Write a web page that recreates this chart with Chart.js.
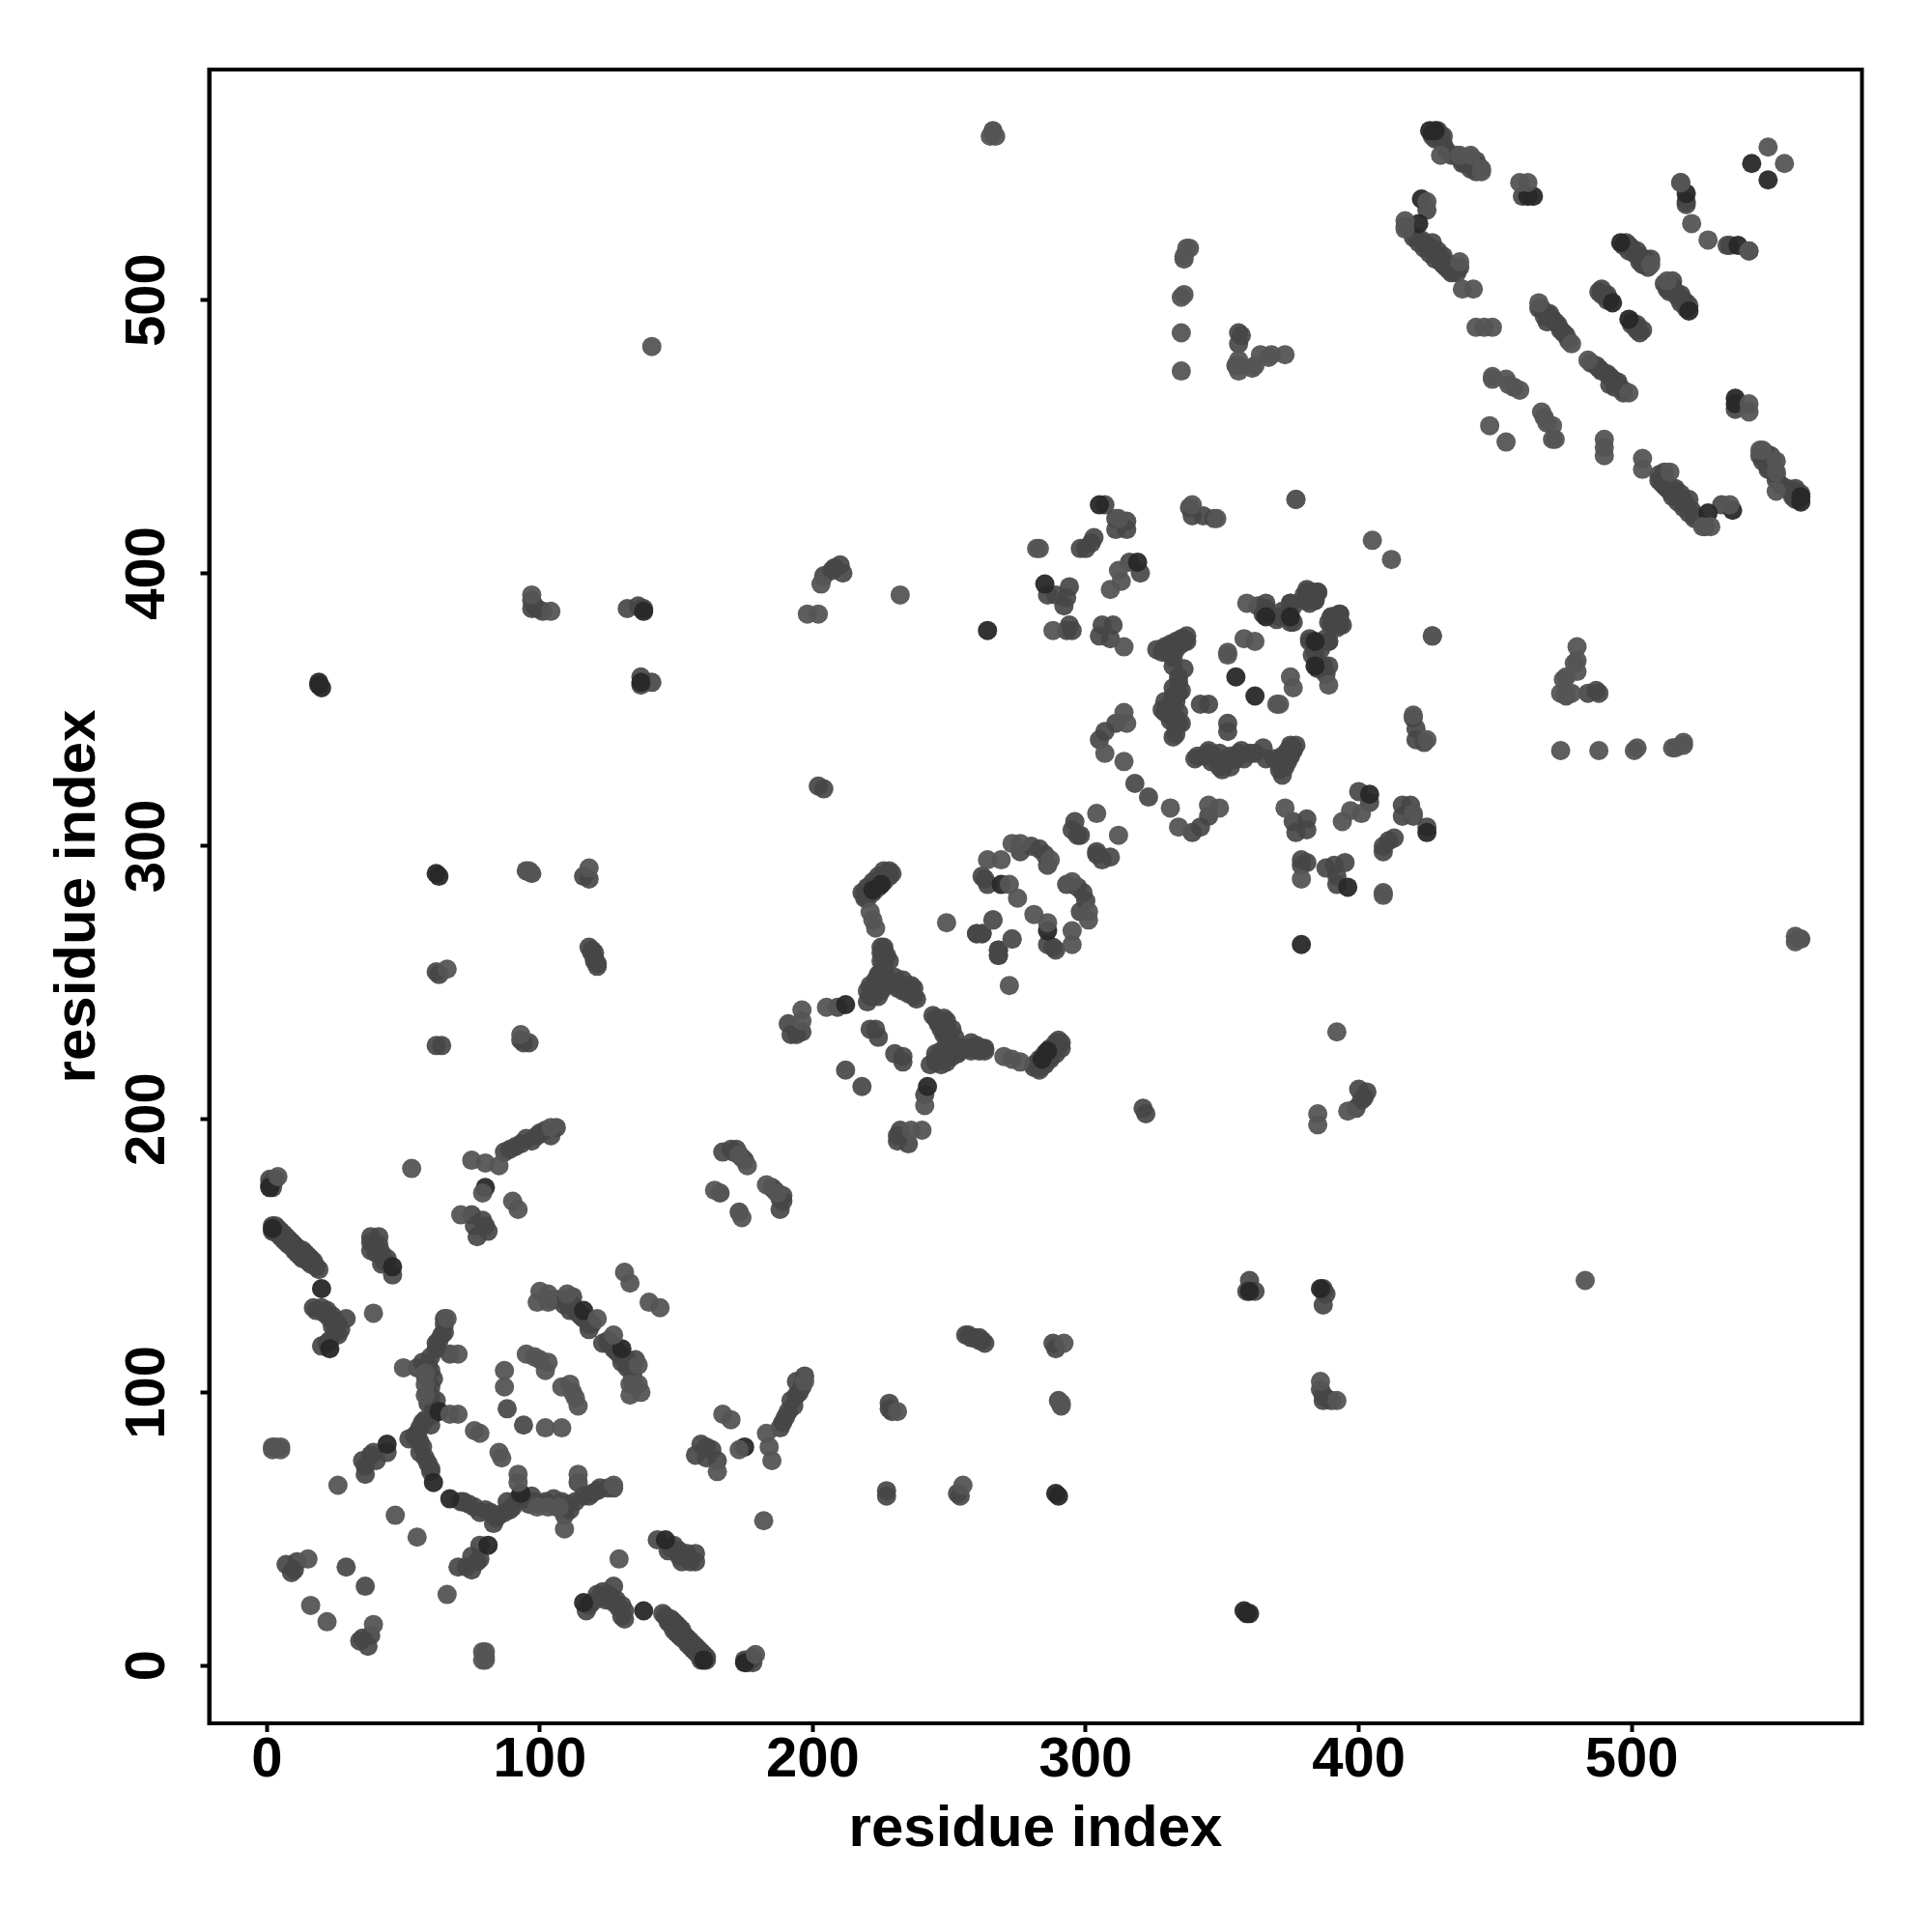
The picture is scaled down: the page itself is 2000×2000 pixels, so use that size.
<!DOCTYPE html>
<html>
<head>
<meta charset="utf-8">
<title>residue contacts</title>
<script src="https://cdn.jsdelivr.net/npm/chart.js@4"></script>
<style>
  html, body { margin: 0; padding: 0; background: #fff; }
  canvas { display: block; }
</style>
</head>
<body>
<canvas id="contactMap" width="2000" height="2000"></canvas>
<script>
// contact pairs as [i, j] with i < j, the map is symmetric
const contactsFaint = [
  [4,179],[53,182],[90,170],[92,167],[71,165],[26,66],[50,109],[87,108],[87,102],[95,114],[98,113],[100,112],
  [103,111],[102,108],[76,86],[78,85],[2,80],[3,80],[5,80],[16,22],[15,39],[131,144],[133,140],[100,137],
  [103,136],[99,133],[103,133],[110,136],[121,127],[66,127],[70,114],[70,92],[67,92],[58,107],[58,103],
  [58,99],[2,79],[5,79],[75,185],[80,184],[85,183],[104,197],[141,483],[97,392],[104,386],
  [66,255],[93,231],[118,292],[96,291],[164,174],[176,183],[173,187],[198,385],[202,385],[203,396],
  [232,392],[249,272],[266,273],[273,266],[205,241],[196,240],[196,236],[221,276],[222,273],[223,270],
  [269,295],[264,295],[273,301],[276,301],[287,295],[272,286],[275,281],[304,312],[282,409],[283,409],
  [377,427],[405,412],[314,373],[309,394],[312,401],[313,397],[359,389],[352,370],[352,371],[358,376],[362,375],
  [312,420],[307,334],[314,331],[314,349],[315,345],[335,474],[335,488],[336,502],[356,474],[362,476],[364,480],
  [368,480],[337,519],[367,479],[373,480],[335,501],[339,425],[348,420],[288,379],
  [39,129],[47,55],[266,561],[267,560],[79,173],[425,536],[417,529],[417,526],[438,504],[442,504],[443,490],
  [446,490],[449,490],[449,472],[454,471],[455,469],[448,454],[449,471],[518,543],[522,528],[543,518],[550,556],
  [445,547],[441,553],[430,553],[437,553],[445,548],[459,543],[462,543],[437,514],[478,484],[507,513],[466,499],
  [265,560],[459,467],[361,475],[356,478],[356,476],[336,516],[336,515],[338,519]
];
const contactsMid = [
  [1,176],[2,177],[3,178],[1,178],[2,175],[2,161],[3,161],[4,160],[5,159],[6,158],[7,157],[8,156],[9,155],[10,154],[11,153],
  [13,152],[14,151],[15,150],[16,149],[17,148],[18,146],[19,145],[2,159],[3,159],[4,158],[5,157],[6,156],[7,155],[8,154],
  [10,152],[11,151],[12,150],[13,149],[15,148],[16,147],[17,131],[20,131],[22,130],[24,128],[29,127],[18,130],[21,129],
  [23,127],[25,126],[24,124],[25,122],[22,118],
  [26,125],[27,123],[26,121],[20,117],[23,119],[38,157],[41,157],[38,152],[42,151],[44,149],[42,147],[46,143],
  [38,155],[41,154],[40,151],[43,148],
  [75,165],[79,163],[76,161],[77,157],[81,159],[80,161],[65,125],[65,122],[64,121],[67,114],[62,116],
  [60,113],[57,111],[55,109],[58,106],[59,96],[61,94],[60,88],[56,87],[55,85],[52,83],[56,82],[56,78],[59,74],
  [60,71],[59,110],[60,108],[61,105],[60,102],[59,100],[60,98],[62,97],[61,92],[58,90],[57,89],[54,84],[55,83],
  [57,80],[58,76],[60,72],[62,118],[63,119],[65,127],[88,94],[109,132],[112,132],[116,127],[118,125],[112,135],
  [104,134],[106,134],[108,134],[110,133],[113,130],[115,128],[117,127],[119,125],[111,130],[114,129],[118,123],
  [11,38],[7,37],[9,34],[10,35],[29,36],[36,70],[38,77],[36,73],[40,75],[39,78],[44,78],[35,75],
  [87,188],[91,190],[97,192],[100,195],[104,194],[89,189],[93,191],[95,193],[99,194],[102,196],[106,197],
  [62,254],[63,253],[62,227],[64,227],[94,228],[96,228],[95,291],[116,289],[118,288],[119,262],[120,261],[120,258],
  [118,263],[121,257],[120,259],[93,229],[97,290],[98,388],[97,390],[97,387],[99,387],[101,386],[132,387],[137,387],
  [138,387],[137,362],[137,359],[141,360],[136,388],[121,256],[119,261],[167,188],
  [170,189],[172,189],[173,187],[175,185],[171,188],[174,186],[166,173],[202,322],[204,321],[204,399],[207,401],[208,402],[210,403],
  [211,400],[228,291],[227,290],[225,288],[223,287],[221,285],[220,284],[218,283],[219,281],[226,291],[224,289],[222,287],
  [220,285],[219,283],[228,289],[226,287],[224,285],[222,283],[220,281],[229,290],[226,262],[226,259],
  [226,257],[230,252],[233,251],[237,248],[238,244],[236,249],[227,252],[223,251],[221,249],[220,247],[220,243],
  [225,250],[224,253],[228,250],[231,249],[234,249],[235,246],[237,245],[222,245],[221,245],[225,254],[226,255],[227,260],[225,261],[228,258],
  [224,245],[225,247],[226,250],[227,249],[229,250],[231,248],[233,247],[236,246],[226,263],[226,260],[226,258],[225,258],[225,263],
  [222,248],[209,241],[196,232],[191,235],[192,231],[194,231],[223,233],[224,230],[221,233],[212,218],[260,268],
  [262,268],[268,262],[268,260],[262,289],[263,288],[264,286],[276,298],[280,300],[283,299],[285,297],
  [286,293],[296,309],[297,304],[295,306],[298,304],[318,323],[307,425],[311,420],[315,419],[315,416],
  [311,416],[298,409],[300,409],[303,413],[302,411],[316,404],[320,400],[286,392],[294,395],[293,391],[292,388],
  [289,392],[293,379],[294,381],[295,379],[306,381],[310,381],[305,377],[309,376],[338,424],[339,421],
  [343,421],[347,420],[337,377],[335,376],[333,374],[331,373],[326,372],[328,371],[332,366],[334,362],[335,357],
  [334,356],[332,354],[329,353],[328,350],[331,346],[333,341],[342,352],[345,352],[363,388],[366,386],
  [366,389],[371,384],[375,382],[375,389],[381,393],[381,390],[385,393],[393,385],[389,382],[394,381],[389,375],
  [384,372],[387,366],[390,384],[392,383],[391,381],[393,383],[392,382],[388,376],[386,372],[385,365],[383,370],[382,376],
  [380,392],[382,392],[383,391],[384,390],[331,374],[333,375],[335,374],[333,372],[329,373],[330,371],[332,369],[336,376],
  [337,375],[336,375],[332,355],[333,353],[331,352],[330,350],[329,349],[331,348],[333,344],[335,345],[332,340],[334,345],
  [333,347],[334,349],[332,358],[334,360],[336,365],
  [311,345],[307,342],[305,339],[427,377],[425,533],[417,527],[421,523],[423,522],
  [425,520],[427,519],[428,517],[430,516],[431,513],[433,511],[435,512],[437,512],[422,521],[424,519],[426,517],[428,515],
  [430,514],[432,512],[434,510],[436,510],[420,523],[429,518],[427,521],[431,516],[433,513],[460,538],[457,468],
  [469,495],[471,493],[473,491],[475,488],[467,497],[468,494],[470,495],[472,492],[474,489],[476,487],[477,485],[466,497],[469,492],
  [499,520],[500,519],[503,516],[505,515],[497,520],[498,521],[499,518],[501,517],[502,518],[504,513],[503,514],[505,513],[506,512],[507,515],
  [491,502],[489,504],[490,502],[492,500],[488,503],[489,502],[491,500],[520,536],[535,520],[431,560],[429,561],[441,548],[444,549],[441,552],
  [437,552],[266,562],[427,560],[429,559],[431,557],[430,560],[428,559],[432,555],[434,553],[439,551],[442,549],[443,551],
  [428,561],[427,561],[429,562],[443,547],[436,553],[438,550],[439,550],[356,488],[356,484],[355,476],[357,487]
];
const contactsStrong = [
  [1,175],[2,160],[20,138],[46,146],[23,116],[61,67],[63,93],[44,81],[19,359],[20,358],[19,360],[62,290],[63,289],
  [264,379],[212,242],[116,130],[426,562],[428,562],[305,425],[319,404],[285,396],[355,362],
  [384,366],[384,375],[422,528],[464,538],[462,538],[520,539],[544,550],[493,499],[496,521],
  [80,175],[137,360],[386,138],[269,286],[222,284],[225,286],[423,537]
];

const tickValues = [0, 100, 200, 300, 400, 500];
const axisTitle = 'residue index';

function mirrorPairs(pairs) {
  const points = [];
  pairs.forEach(p => {
    points.push({ x: p[0], y: p[1] });
    points.push({ x: p[1], y: p[0] });
  });
  return points;
}

const boxPlugin = {
  id: 'boxPlugin',
  afterDraw(chart) {
    const a = chart.chartArea;
    const ctx = chart.ctx;
    ctx.save();
    ctx.strokeStyle = '#000';
    ctx.lineWidth = 4;
    ctx.strokeRect(a.left, a.top, a.right - a.left, a.bottom - a.top);
    ctx.restore();
  }
};

const tickFont = { family: '"Liberation Sans", Arial, sans-serif', size: 58, weight: 'bold' };
const titleFont = { family: '"Liberation Sans", Arial, sans-serif', size: 60, weight: 'bold' };

function axisOptions(title) {
  return {
    type: 'linear',
    min: -21.2,
    max: 584.4,
    afterBuildTicks: scale => { scale.ticks = tickValues.map(v => ({ value: v })); },
    grid: { drawOnChartArea: false, drawTicks: true, tickLength: 9, tickWidth: 4, tickColor: '#000' },
    border: { display: true, color: '#000', width: 4 },
    title: { display: true, text: title, color: '#000', font: titleFont },
    ticks: { color: '#000', font: tickFont, autoSkip: false }
  };
}

const xAxis = axisOptions(axisTitle);
xAxis.afterFit = scale => { scale.height = 216; };
xAxis.ticks.padding = -5;
xAxis.ticks.maxRotation = 0;
xAxis.ticks.minRotation = 0;
xAxis.title.padding = { top: 0, bottom: 70 };

const yAxis = axisOptions(axisTitle);
yAxis.afterFit = scale => { scale.width = 216.5; };
yAxis.ticks.padding = 5.5;
yAxis.ticks.minRotation = 90;
yAxis.ticks.maxRotation = 90;
yAxis.ticks.crossAlign = 'center';
yAxis.title.padding = { top: 45, bottom: 0 };

new Chart(document.getElementById('contactMap').getContext('2d'), {
  type: 'scatter',
  data: {
    datasets: [
      { label: 'faint', data: mirrorPairs(contactsFaint), backgroundColor: 'rgba(85,85,85,0.95)', order: 1 },
      { label: 'strong', data: mirrorPairs(contactsStrong), backgroundColor: 'rgba(40,40,40,0.95)', order: 2 },
      { label: 'mid', data: mirrorPairs(contactsMid), backgroundColor: 'rgba(70,70,70,0.92)', order: 3 }
    ]
  },
  options: {
    responsive: false,
    animation: false,
    layout: { padding: { left: 0, top: 72, right: 72.5, bottom: 0 } },
    elements: { point: { radius: 10, borderWidth: 0, hoverRadius: 10 } },
    plugins: { legend: { display: false }, tooltip: { enabled: false } },
    scales: { x: xAxis, y: yAxis }
  },
  plugins: [boxPlugin]
});
</script>
</body>
</html>
